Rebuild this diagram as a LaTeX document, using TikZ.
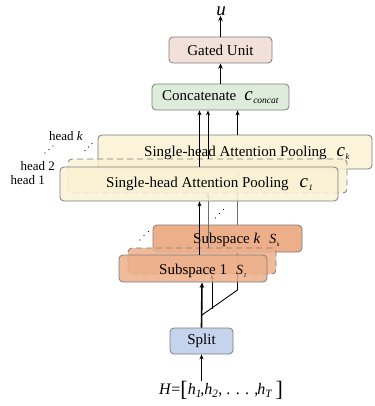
\documentclass[tikz,border=0pt]{standalone}
\usepackage{fontspec}
\setmainfont{Liberation Serif}
\usetikzlibrary{arrows.meta}
\definecolor{gatedc}{RGB}{242,225,217}
\definecolor{concatc}{RGB}{222,237,219}
\definecolor{headc}{RGB}{250,241,212}
\definecolor{subc}{RGB}{237,175,138}
\definecolor{splitc}{RGB}{197,211,237}
\definecolor{boxline}{RGB}{125,125,125}
\definecolor{midgray}{RGB}{110,110,110}
\newcommand{\mysym}[4]{\textit{\fontsize{#3}{#3}\selectfont #1}\kern0.5pt\raisebox{-3pt}{\fontsize{#4}{#4}\selectfont\textit{#2}}}
\tikzset{
  box/.style={draw=boxline, line width=0.8pt, rounded corners=4pt, inner sep=0pt},
  dbox/.style={box, dash pattern=on 6pt off 4pt},
  arr/.style={-{Stealth[length=5pt,width=4pt]}, line width=0.9pt},
  tarr/.style={-{Stealth[length=5.5pt,width=4.5pt]}, line width=1.6pt},
  txt/.style={font=\fontsize{15}{18}\selectfont, inner sep=0pt},
  lbl/.style={font=\fontsize{13}{15}\selectfont, inner sep=0pt},
  dot/.style={fill=black, draw=none},
}
\begin{document}
\begin{tikzpicture}[x=1pt,y=-1pt]
\useasboundingbox (0,0) rectangle (374,406);

% x positions
\coordinate (xa) at (199.5,0);
\coordinate (xb) at (208,0);
\coordinate (xc) at (237.5,0);
\coordinate (xs) at (202,0);

% ---------- subspaces ----------
\node[box, fill=subc, minimum width=149pt, minimum height=27pt] (sk) at (227.5,238.5) {};
\node[txt, anchor=base west] (skt) at (193,243) {Subspace \textit{k}\hspace{9pt}\mysym{S}{k}{14}{6}};

\coordinate (br) at (202,315);
\coordinate (bk) at (237.5,290);
\coordinate (b2) at (212,308.5);
\draw[line width=0.9pt] (br) -- (bk);
\draw[arr] (bk) -- (bk |- sk.south);

\node[dbox, fill=subc, fill opacity=0.85, minimum width=148pt, minimum height=26pt] (s2) at (202,261) {};
\draw[arr] (b2) -- (b2 |- s2.south);
\node[box, fill=subc, fill opacity=0.85, minimum width=148pt, minimum height=27pt] (s1) at (193,268.5) {};
\node[txt, anchor=base west] (s1t) at (159,274) {Subspace 1\hspace{9pt}\mysym{S}{1}{14}{6}};

% ---------- heads ----------
\node[box, fill=headc, fill opacity=0.85, minimum width=274pt, minimum height=34pt] (hk) at (235,152) {};
\node[txt, anchor=base west] (hkt) at (144,156) {Single-head Attention Pooling\hspace{10pt}\mysym{c}{k}{19}{8.5}};
\draw[arr, draw=midgray] (xc |- sk.north) -- (xc |- hk.south);
\draw[arr, draw=midgray] (xb |- s2.north) -- (xb |- 0,193);
\node[dbox, fill=headc, fill opacity=0.8, minimum width=279pt, minimum height=34pt] (h2) at (207.5,176) {};
\node[box, fill=headc, fill opacity=0.85, minimum width=278pt, minimum height=34pt] (h1) at (199,184) {};
\node[txt, anchor=base west] (h1t) at (106,187) {Single-head Attention Pooling\hspace{11pt}\mysym{c}{1}{19}{8.5}};

\node[lbl, anchor=base east] (lk) at (83,140) {head \textit{k}};
\node[lbl, anchor=base east] (l2) at (55,170) {head 2};
\node[lbl, anchor=base east] (l1) at (45,184) {head 1};

% dots
\foreach \p in {(45,153),(49,149.5),(53,146),(85,150.5),(88.5,147),(92,143.5),(140,240),(144,235.5),(148.5,231.5),(215.5,218),(219.5,213.5),(223.5,209.5)}
  \fill[dot] \p circle (0.6pt);

% ---------- top ----------
\node[box, fill=concatc, minimum width=137pt, minimum height=26pt, txt] (concat) at (220.5,97) {Concatenate\hspace{8pt}\mysym{c}{concat}{19}{9.5}};
\node[box, fill=gatedc, minimum width=103pt, minimum height=26pt, txt] (gated) at (220.5,50) {Gated Unit};
\node[font=\fontsize{19}{19}\selectfont\itshape, inner sep=0pt] (u) at (221,11) {u};

% ---------- split ----------
\node[box, fill=splitc, minimum width=63pt, minimum height=26pt, txt] (split) at (201.5,341) {Split};
\node[inner sep=0pt, font=\fontsize{16}{18}\selectfont] (H) at (221,390)
  {\textit{H}=\raisebox{-1.5pt}{\fontsize{22}{22}\selectfont[}\textit{h}\textsubscript{\textit{1}}\kern-1.5pt,\textit{h}\textsubscript{\textit{2}}, . . . ,\kern-1pt\textit{h}\textsubscript{\textit{T}}\,\raisebox{-1.5pt}{\fontsize{22}{22}\selectfont]}};

% ---------- foreground connectors ----------
\draw[arr] (split.south |- H.north) -- (split.south);
\draw[tarr] (split.north) -- (xs |- s1.south);
\draw[arr, line width=1.2pt] (xa |- s1.north) -- (xa |- h1.south);
\draw[arr] (xa |- h1.north) -- (xa |- concat.south);
\draw[arr] (xb |- h2.north) -- (xb |- concat.south);
\draw[arr] (xc |- hk.north) -- (xc |- concat.south);
\draw[tarr] (concat.north -| gated.south) -- (gated.south);
\draw[tarr] (gated.north) -- (gated.north |- u.south);
\end{tikzpicture}
\end{document}
